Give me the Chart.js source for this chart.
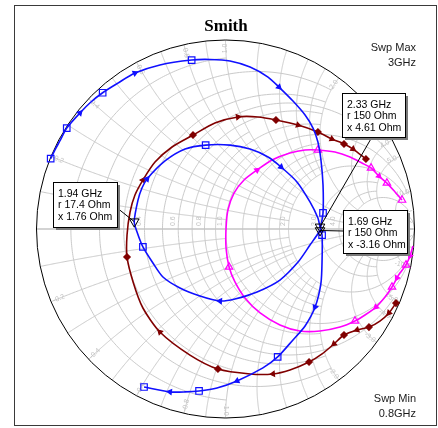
<!DOCTYPE html>
<html>
<head>
<meta charset="utf-8">
<script src="https://cdn.jsdelivr.net/npm/chart.js@4/dist/chart.umd.min.js"></script>
<style>
  html, body { margin: 0; padding: 0; background: #fff; }
  canvas { display: block; }
</style>
</head>
<body>
<canvas id="smith" width="438" height="428"></canvas>
<script>
// ---- chart text ----
const chartTitle = 'Smith';
const sweepMaxLabel = ['Swp Max', '3GHz'];
const sweepMinLabel = ['Swp Min', '0.8GHz'];
const Z0 = 50;

// ---- S11 traces (real / imaginary part of the reflection coefficient) ----
const blueRe = [-0.925,-0.900,-0.874,-0.840,-0.770,-0.712,-0.650,-0.569,-0.479,-0.347,-0.179,-0.082,0.024,0.130,0.225,0.283,0.357,0.421,0.463,0.489,0.505,0.516,0.516,0.505,0.500,0.447,0.384,0.288,0.167,0.050,-0.029,-0.135,-0.241,-0.331,-0.384,-0.437,-0.468,-0.483,-0.463,-0.442,-0.415,-0.320,-0.214,-0.105,0.024,0.130,0.225,0.294,0.378,0.447,0.489,0.500,0.511,0.511,0.505,0.474,0.421,0.357,0.276,0.198,0.061,-0.045,-0.140,-0.214,-0.294,-0.431];
const blueIm = [0.372,0.423,0.470,0.534,0.614,0.672,0.721,0.772,0.825,0.868,0.894,0.897,0.889,0.857,0.804,0.751,0.677,0.603,0.534,0.460,0.365,0.233,0.085,0.016,-0.008,-0.085,-0.175,-0.270,-0.333,-0.370,-0.381,-0.354,-0.312,-0.254,-0.180,-0.095,-0.016,0.039,0.153,0.217,0.265,0.360,0.423,0.444,0.444,0.423,0.381,0.328,0.249,0.143,0.058,0.011,-0.032,-0.164,-0.286,-0.413,-0.513,-0.587,-0.677,-0.735,-0.804,-0.841,-0.857,-0.862,-0.862,-0.836];

const brownRe = [0.902,0.865,0.817,0.759,0.696,0.627,0.574,0.511,0.442,0.341,0.251,0.130,-0.040,-0.188,-0.347,-0.437,-0.489,-0.521,-0.521,-0.505,-0.479,-0.437,-0.373,-0.283,-0.172,-0.056,0.066,0.172,0.267,0.384,0.489,0.563,0.627,0.675,0.743];
const brownIm = [-0.392,-0.444,-0.487,-0.519,-0.534,-0.561,-0.608,-0.661,-0.704,-0.746,-0.767,-0.767,-0.741,-0.667,-0.545,-0.418,-0.280,-0.148,-0.032,0.090,0.180,0.259,0.354,0.434,0.497,0.561,0.593,0.593,0.577,0.550,0.513,0.476,0.450,0.423,0.370];

const magentaRe = [0.992,0.976,0.955,0.923,0.907,0.881,0.844,0.796,0.738,0.685,0.606,0.500,0.394,0.288,0.183,0.103,0.050,0.019,0.003,0.003,0.013,0.045,0.098,0.167,0.246,0.341,0.421,0.489,0.579,0.659,0.722,0.770,0.812,0.854,0.897,0.934];
const magentaIm = [-0.090,-0.143,-0.190,-0.233,-0.259,-0.307,-0.360,-0.413,-0.455,-0.487,-0.519,-0.540,-0.540,-0.508,-0.444,-0.365,-0.280,-0.201,-0.101,0.005,0.101,0.190,0.259,0.312,0.365,0.402,0.418,0.418,0.407,0.381,0.349,0.323,0.280,0.243,0.196,0.153];

// ---- markers (frequency, resistance and reactance in Ohm) ----
const markerFreq = ['2.33 GHz', '1.94 GHz', '1.69 GHz'];
const markerR = [150, 17.4, 150];
const markerX = [4.61, 1.76, -3.16];

// ---- which trace points carry a symbol / a direction arrow ----
const blueSymbols = [0,3,6,10,22,35,43,52,58,62,65];
const blueArrows = [4,8,15,30,40,47,55,60,64];
const brownSymbols = [0,3,5,8,12,17,24,28,30,32,34];
const brownArrows = [1,4,6,10,14,21,26,29,31,33];
const magentaSymbols = [2,5,9,17,27,31,33,35];
const magentaArrows = [1,4,7,23,32];

// ---- Smith grid: constant-r circles and constant-x arcs, each with the extent it is drawn to ----
const gridValues = [0.1,0.2,0.3,0.4,0.5,0.6,0.7,0.8,0.9,1.0,1.2,1.4,1.6,1.8,2.0,3.0,4.0,5.0,10,20];
const gridExtent = [1,2,1,2,5,2,1,2,1,10,2,2,2,2,10,5,5,20,Infinity,50];
const gridLabels = [0.2,0.4,0.6,0.8,1.0,2.0,3.0,4.0,5.0,10.0];

function gammaOf(r, x) {
  const d = (r + 1) * (r + 1) + x * x;
  return [(r * r + x * x - 1) / d, 2 * x / d];
}
function toPoints(re, im) { return re.map((v, i) => ({ x: v, y: im[i] })); }
function fmt(v) { return v.toFixed(1); }

const markerPts = markerR.map((r, i) => {
  const g = gammaOf(r / Z0, markerX[i] / Z0);
  return { x: g[0], y: g[1] };
});

function arrowRotation(re, im) {
  return (ctx) => {
    const i = ctx.dataIndex;
    const a = Math.max(0, i - 1), b = Math.min(re.length - 1, i + 1);
    return Math.atan2(re[b] - re[a], im[b] - im[a]) * 180 / Math.PI;
  };
}
function pick(list, arrows, sym, arr, none) {
  return (ctx) => list.includes(ctx.dataIndex) ? sym : (arrows.includes(ctx.dataIndex) ? arr : none);
}

function traceDataset(re, im, color, symbols, arrows, symStyle, symRadius, symFill) {
  const rot = arrowRotation(re, im);
  return {
    data: toPoints(re, im),
    showLine: true,
    borderColor: color,
    borderWidth: 1.6,
    tension: 0.25,
    fill: false,
    clip: false,
    pointStyle: pick(symbols, arrows, symStyle, 'triangle', false),
    pointRadius: pick(symbols, arrows, symRadius, 2.8, 0),
    pointRotation: (ctx) => arrows.includes(ctx.dataIndex) ? rot(ctx) : 0,
    pointBorderColor: color,
    pointBackgroundColor: pick(symbols, arrows, symFill, color, color),
    pointBorderWidth: 1.2,
    pointHoverRadius: 0
  };
}

const gridPlugin = {
  id: 'smithGrid',
  beforeDatasetsDraw(chart) {
    const ctx = chart.ctx, xs = chart.scales.x, ys = chart.scales.y;
    const px = (g) => [xs.getPixelForValue(g[0]), ys.getPixelForValue(g[1])];
    const N = 240;
    const stroke = (pts) => {
      ctx.beginPath();
      pts.forEach((g, i) => { const p = px(g); if (i) ctx.lineTo(p[0], p[1]); else ctx.moveTo(p[0], p[1]); });
      ctx.stroke();
    };
    ctx.save();
    ctx.strokeStyle = '#cacaca';
    ctx.lineWidth = 1;
    gridValues.forEach((v, k) => {
      const lim = Math.atan(gridExtent[k]);
      // constant resistance circle
      const rc = [];
      for (let i = 0; i <= N; i++) rc.push(gammaOf(v, Math.tan(-lim + 2 * lim * i / N)));
      stroke(rc);
      // constant reactance arcs (+x and -x)
      const up = [], dn = [];
      for (let i = 0; i <= N; i++) {
        const r = Math.tan(lim * i / N);
        up.push(gammaOf(r, v));
        dn.push(gammaOf(r, -v));
      }
      stroke(up); stroke(dn);
    });
    // real axis
    ctx.strokeStyle = '#c4c4c4';
    ctx.lineWidth = 1.6;
    stroke([[-1, 0], [1, 0]]);
    // grid labels
    ctx.fillStyle = '#c2c2c2';
    ctx.font = '7px "Liberation Sans", Arial, sans-serif';
    gridLabels.forEach((v) => {
      const p = px(gammaOf(v, 0));
      ctx.save();
      ctx.translate(p[0] - 2, p[1] - 3);
      ctx.rotate(-Math.PI / 2);
      ctx.textAlign = 'left';
      ctx.textBaseline = 'bottom';
      ctx.fillText(fmt(v), 0, 0);
      ctx.restore();
      [v, -v].forEach((x) => {
        const g = gammaOf(0, x);
        const phi = Math.atan2(g[1], g[0]);
        const q = px([0.955 * Math.cos(phi), 0.955 * Math.sin(phi)]);
        ctx.save();
        ctx.translate(q[0], q[1]);
        let rot = -phi;
        if (Math.cos(phi) < 0) rot += Math.PI;
        ctx.rotate(rot);
        ctx.textAlign = 'center';
        ctx.textBaseline = 'middle';
        ctx.fillText(fmt(x), 0, 0);
        ctx.restore();
      });
    });
    // outer boundary |S11| = 1
    ctx.strokeStyle = '#000';
    ctx.lineWidth = 1;
    const c = px([0, 0]);
    ctx.beginPath();
    ctx.arc(c[0], c[1], xs.getPixelForValue(1) - c[0], 0, Math.PI * 2);
    ctx.stroke();
    ctx.restore();
  }
};

const decorPlugin = {
  id: 'decor',
  beforeDraw(chart) {
    const ctx = chart.ctx;
    ctx.save();
    ctx.fillStyle = '#fff';
    ctx.fillRect(0, 0, chart.width, chart.height);
    ctx.strokeStyle = '#3a3a3a';
    ctx.lineWidth = 1;
    ctx.strokeRect(14.5, 5.5, 422, 420);
    ctx.restore();
  },
  afterDraw(chart) {
    const ctx = chart.ctx, xs = chart.scales.x, ys = chart.scales.y;
    ctx.save();
    ctx.fillStyle = '#000';
    ctx.font = 'bold 17px "Liberation Serif", "Times New Roman", serif';
    ctx.textAlign = 'center';
    ctx.textBaseline = 'alphabetic';
    ctx.fillText(chartTitle, 226, 31);

    ctx.font = '11px "Liberation Sans", Arial, sans-serif';
    ctx.fillStyle = '#1a1a1a';
    ctx.textAlign = 'right';
    ctx.fillText(sweepMaxLabel[0], 416, 50.5);
    ctx.fillText(sweepMaxLabel[1], 416, 66);
    ctx.fillText(sweepMinLabel[0], 416, 401.5);
    ctx.fillText(sweepMinLabel[1], 416, 417);

    // marker read-out boxes: [left, top, width, height, leader start x, leader start y]
    const boxes = [
      [342, 93, 63, 44, 372, 137],
      [53, 182, 64, 45, 116, 207],
      [343, 210, 64, 43, 343, 231]
    ];
    boxes.forEach((b, i) => {
      const mx = xs.getPixelForValue(markerPts[i].x), my = ys.getPixelForValue(markerPts[i].y);
      ctx.strokeStyle = '#000';
      ctx.lineWidth = 1;
      ctx.beginPath();
      ctx.moveTo(b[4], b[5]);
      ctx.lineTo(mx, my);
      ctx.stroke();
    });
    ctx.font = '10.5px "Liberation Sans", Arial, sans-serif';
    boxes.forEach((b, i) => {
      ctx.fillStyle = '#7a7a7a';
      ctx.fillRect(b[0] + 3, b[1] + 3, b[2], b[3]);
      ctx.fillStyle = '#fff';
      ctx.fillRect(b[0], b[1], b[2], b[3]);
      ctx.strokeStyle = '#000';
      ctx.strokeRect(b[0] + 0.5, b[1] + 0.5, b[2], b[3]);
      ctx.fillStyle = '#000';
      ctx.textAlign = 'left';
      const lines = [markerFreq[i], 'r ' + markerR[i] + ' Ohm', 'x ' + markerX[i] + ' Ohm'];
      lines.forEach((t, k) => ctx.fillText(t, b[0] + 5, b[1] + 14.5 + k * 11.7));
    });
    ctx.restore();
  }
};

new Chart(document.getElementById('smith'), {
  type: 'scatter',
  data: {
    datasets: [
      {
        data: markerPts,
        showLine: false,
        clip: false,
        pointStyle: 'triangle',
        pointRotation: 180,
        pointRadius: 5.5,
        pointBorderColor: '#000',
        pointBackgroundColor: 'rgba(0,0,0,0)',
        pointBorderWidth: 1,
        pointHoverRadius: 0
      },
      traceDataset(blueRe, blueIm, '#1010ff', blueSymbols, blueArrows, 'rect', 4.6, 'rgba(0,0,0,0)'),
      traceDataset(brownRe, brownIm, '#800000', brownSymbols, brownArrows, 'rectRot', 3.2, '#800000'),
      traceDataset(magentaRe, magentaIm, '#ff00ff', magentaSymbols, magentaArrows, 'triangle', 4.3, 'rgba(0,0,0,0)')
    ]
  },
  options: {
    responsive: false,
    animation: false,
    devicePixelRatio: 1,
    layout: { padding: { left: 36.5, right: 23.5, top: 40, bottom: 10 } },
    scales: {
      x: { type: 'linear', min: -1, max: 1, display: false },
      y: { type: 'linear', min: -1, max: 1, display: false }
    },
    plugins: { legend: { display: false }, title: { display: false }, tooltip: { enabled: false } },
    events: []
  },
  plugins: [gridPlugin, decorPlugin]
});
</script>
</body>
</html>
